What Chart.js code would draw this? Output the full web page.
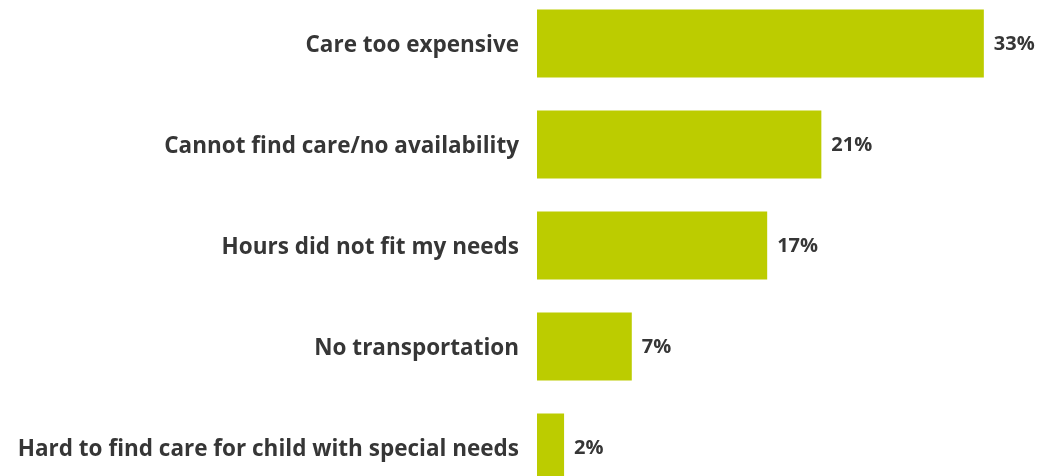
<!DOCTYPE html>
<html>
<head>
<meta charset="utf-8">
<script src="https://cdn.jsdelivr.net/npm/chart.js@4/dist/chart.umd.min.js"></script>
<style>
  html, body { margin: 0; padding: 0; background: #ffffff; overflow: hidden; }
  body { width: 1047px; height: 476px; position: relative; }
  #c { position: absolute; left: 0; top: -7px; }
</style>
</head>
<body>
<canvas id="c" width="1047" height="505"></canvas>
<script>
const categories = [
  'Care too expensive',
  'Cannot find care/no availability',
  'Hours did not fit my needs',
  'No transportation',
  'Hard to find care for child with special needs'
];
const shares = [33, 21, 17, 7, 2];
const valueLabels = ['33%', '21%', '17%', '7%', '2%'];

const barColor = '#bccc00';
const textColor = '#363636';
const labelFont = { family: '"Open Sans", sans-serif', size: 22.5, weight: 'bold' };
const valueFont = { family: '"Open Sans", sans-serif', size: 20, weight: 'bold' };

// Writes the percentage just past the end of each bar
const barValueLabels = {
  id: 'barValueLabels',
  afterDatasetsDraw(chart) {
    const ctx = chart.ctx;
    const meta = chart.getDatasetMeta(0);
    ctx.save();
    ctx.fillStyle = textColor;
    ctx.font = `${valueFont.weight} ${valueFont.size}px ${valueFont.family}`;
    ctx.textAlign = 'left';
    ctx.textBaseline = 'middle';
    meta.data.forEach((bar, i) => {
      ctx.fillText(valueLabels[i], bar.x + 10, bar.y + 1);
    });
    ctx.restore();
  }
};

new Chart(document.getElementById('c'), {
  type: 'bar',
  data: {
    labels: categories,
    datasets: [{
      data: shares,
      backgroundColor: barColor,
      borderWidth: 0,
      categoryPercentage: 1.0,
      barPercentage: 0.673
    }]
  },
  options: {
    indexAxis: 'y',
    responsive: false,
    maintainAspectRatio: false,
    animation: false,
    layout: { padding: { left: 0, right: 9, top: 0, bottom: 0 } },
    plugins: {
      legend: { display: false },
      tooltip: { enabled: false }
    },
    scales: {
      x: {
        min: 0,
        max: 37,
        display: false,
        grid: { display: false }
      },
      y: {
        grid: { display: false, drawTicks: false },
        border: { display: false },
        ticks: {
          color: textColor,
          font: labelFont,
          padding: 18,
          labelOffset: 2
        },
        afterFit(scale) {
          scale.width = 537;
          // keep the category band flush with the canvas edges
          scale.paddingTop = 0;
          scale.paddingBottom = 0;
        }
      }
    }
  },
  plugins: [barValueLabels]
});
</script>
</body>
</html>
